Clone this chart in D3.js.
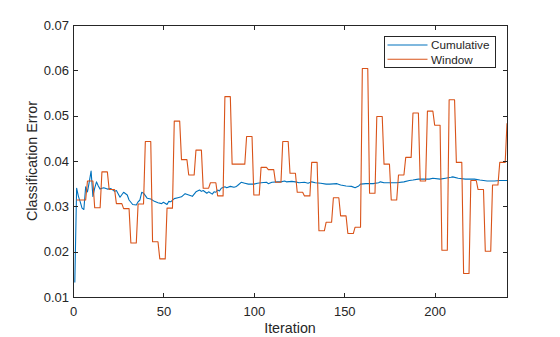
<!DOCTYPE html>
<html>
<head>
<meta charset="utf-8">
<script src="https://cdn.jsdelivr.net/npm/d3@7"></script>
<style>
  html, body { margin: 0; padding: 0; background: #fff; }
  svg { display: block; }
  text { font-family: "Liberation Sans", Arial, Helvetica, sans-serif; fill: #262626; }
</style>
</head>
<body>
<svg id="chart" width="560" height="337"></svg>
<script>
// ---------------- data ----------------
const xTicks = [0, 50, 100, 150, 200];
const yTicks = [0.01, 0.02, 0.03, 0.04, 0.05, 0.06, 0.07];
const seriesNames = ["Cumulative", "Window"];

// Cumulative classification error (sampled iterations)
const cumIter = [1, 2, 3, 4, 5, 6, 7, 8, 9, 10, 11, 12, 13, 14, 15, 16, 17, 19, 21, 23, 24, 26, 28, 30, 31, 33, 35, 36, 37, 38, 39,
  41, 43, 45, 47, 49, 50, 52, 53, 54, 56, 58, 60, 62, 64, 66, 68, 70, 71, 72, 74, 75, 77, 78, 79, 80, 81, 82, 84, 85, 87, 89,
  90, 91, 93, 95, 97, 100, 102, 104, 107, 108, 110, 113, 115, 117, 118, 121, 123, 125, 128, 130, 132, 134, 137, 140, 142, 146,
  148, 151, 154, 156, 158, 159, 162, 166, 169, 170, 172, 174, 176, 179, 183, 186, 188, 191, 194, 197, 199, 203, 206, 209, 210,
  213, 217, 221, 222, 225, 229, 233, 236, 240];
const cumErr = [0.0132, 0.0340, 0.0322, 0.0310, 0.0296, 0.0293, 0.0343, 0.0332, 0.0354, 0.0378, 0.0322, 0.0340, 0.0354, 0.0345,
  0.0338, 0.0340, 0.0341, 0.0338, 0.0339, 0.0333, 0.0335, 0.0320, 0.0331, 0.0325, 0.0314, 0.0304, 0.0303, 0.0310, 0.0314,
  0.0331, 0.0329, 0.0318, 0.0316, 0.0311, 0.0308, 0.0306, 0.0309, 0.0304, 0.0311, 0.0310, 0.0317, 0.0319, 0.0321, 0.0328,
  0.0325, 0.0322, 0.0332, 0.0336, 0.0333, 0.0335, 0.0329, 0.0332, 0.0327, 0.0332, 0.0331, 0.0336, 0.0334, 0.0340, 0.0343,
  0.0341, 0.0344, 0.0342, 0.0343, 0.0346, 0.0353, 0.0351, 0.0349, 0.0349, 0.0351, 0.0352, 0.0353, 0.0350, 0.0353, 0.0354,
  0.0354, 0.0356, 0.0354, 0.0355, 0.0354, 0.0352, 0.0353, 0.0351, 0.0354, 0.0352, 0.0351, 0.0349, 0.0349, 0.0350, 0.0347,
  0.0345, 0.0344, 0.0341, 0.0345, 0.0349, 0.0350, 0.0350, 0.0352, 0.0354, 0.0352, 0.0352, 0.0352, 0.0352, 0.0354, 0.0357,
  0.0358, 0.0360, 0.0360, 0.0360, 0.0362, 0.0360, 0.0362, 0.0364, 0.0365, 0.0362, 0.0360, 0.0360, 0.0360, 0.0358, 0.0356,
  0.0356, 0.0357, 0.0357];

// Window classification error: value holds from each start iteration until the next start
const winStart = [2, 8, 12, 16, 20, 24, 28, 32, 36, 40, 44, 48, 52, 56, 60, 64, 68, 72, 76, 80, 84, 88, 92, 96, 100, 104, 108,
  112, 116, 120, 124, 128, 132, 136, 140, 144, 148, 152, 156, 160, 164, 168, 172, 176, 180, 184, 188, 192, 196, 200, 204, 208,
  212, 216, 220, 224, 228, 232, 236, 240];
const winErr = [0.0314, 0.0356, 0.0297, 0.0376, 0.0337, 0.0306, 0.0295, 0.0219, 0.0305, 0.0443, 0.0222, 0.0184, 0.0296,
  0.0488, 0.0403, 0.0369, 0.0424, 0.0340, 0.0352, 0.0323, 0.0542, 0.0393, 0.0393, 0.0454, 0.0325, 0.0386, 0.0381, 0.0353,
  0.0443, 0.0373, 0.0331, 0.0323, 0.0397, 0.0246, 0.0265, 0.0319, 0.0279, 0.0240, 0.0254, 0.0604, 0.0329, 0.0498, 0.0393,
  0.0314, 0.0369, 0.0408, 0.0506, 0.0356, 0.0510, 0.0479, 0.0203, 0.0535, 0.0397, 0.0152, 0.0357, 0.0337, 0.0201, 0.0347,
  0.0397, 0.0483];
const lastIter = 240;

// ---------------- layout ----------------
const svg = d3.select("#chart");
const L = 73, R = 507, T = 25, B = 297;
const x = d3.scaleLinear().domain([0, 240]).range([L, R]);
const y = d3.scaleLinear().domain([0.01, 0.07]).range([B, T]);
const axisColor = "#262626";
const colors = ["#0072BD", "#D95319"];
const tickLen = 4.5;

svg.append("rect").attr("x", 0).attr("y", 0).attr("width", 560).attr("height", 337).attr("fill", "#fff");

svg.append("clipPath").attr("id", "clip").append("rect")
  .attr("x", L).attr("y", T).attr("width", R - L).attr("height", B - T);

const cumData = cumIter.map((it, i) => [it, cumErr[i]]);
const winData = [];
winStart.forEach((s, i) => {
  const e = i < winStart.length - 1 ? winStart[i + 1] - 1 : lastIter;
  for (let it = s; it <= e; it++) winData.push([it, winErr[i]]);
});

const line = d3.line().x(d => x(d[0])).y(d => y(d[1]));
const plot = svg.append("g").attr("clip-path", "url(#clip)");
plot.append("path").datum(cumData).attr("d", line)
  .attr("fill", "none").attr("stroke", colors[0]).attr("stroke-width", 1.1).attr("stroke-linejoin", "round");
plot.append("path").datum(winData).attr("d", line)
  .attr("fill", "none").attr("stroke", colors[1]).attr("stroke-width", 1.1).attr("stroke-linejoin", "round");

const fmtY = d3.format(".2f");
const gBottom = svg.append("g").attr("transform", `translate(0,${B})`)
  .call(d3.axisBottom(x).tickValues(xTicks).tickSizeInner(-tickLen).tickSizeOuter(0).tickPadding(10));
const gTop = svg.append("g").attr("transform", `translate(0,${T})`)
  .call(d3.axisTop(x).tickValues(xTicks).tickSizeInner(-tickLen).tickSizeOuter(0).tickFormat(""));
const gLeft = svg.append("g").attr("transform", `translate(${L},0)`)
  .call(d3.axisLeft(y).tickValues(yTicks).tickSizeInner(-tickLen).tickSizeOuter(0).tickPadding(4).tickFormat(fmtY));
const gRight = svg.append("g").attr("transform", `translate(${R},0)`)
  .call(d3.axisRight(y).tickValues(yTicks).tickSizeInner(-tickLen).tickSizeOuter(0).tickFormat(""));

[gBottom, gTop, gLeft, gRight].forEach(g => {
  g.select(".domain").remove();
  g.selectAll(".tick line").attr("stroke", axisColor).attr("stroke-width", 1).attr("shape-rendering", "crispEdges");
  g.selectAll(".tick text").attr("fill", axisColor).style("font-size", "13px")
    .style("font-family", '"Liberation Sans", Arial, Helvetica, sans-serif');
});
gBottom.selectAll(".tick text").attr("dy", "0.71em").attr("y", 10);
gLeft.selectAll(".tick text").attr("x", -4);

svg.append("rect").attr("x", L).attr("y", T).attr("width", R - L).attr("height", B - T)
  .attr("fill", "none").attr("stroke", axisColor).attr("stroke-width", 1).attr("shape-rendering", "crispEdges");

svg.append("text").attr("x", (L + R) / 2).attr("y", 333).attr("text-anchor", "middle")
  .style("font-size", "14.3px").text("Iteration");
svg.append("text").attr("transform", `translate(36.5,${(T + B) / 2}) rotate(-90)`).attr("text-anchor", "middle")
  .style("font-size", "14.3px").text("Classification Error");

const lg = svg.append("g");
lg.append("rect").attr("x", 384.5).attr("y", 36.5).attr("width", 111).attr("height", 31)
  .attr("fill", "#fff").attr("stroke", axisColor).attr("stroke-width", 1).attr("shape-rendering", "crispEdges");
const rowsY = [45, 59.3];
seriesNames.forEach((name, i) => {
  lg.append("line").attr("x1", 387.5).attr("x2", 427.5).attr("y1", rowsY[i]).attr("y2", rowsY[i])
    .attr("stroke", colors[i]).attr("stroke-width", 1.1);
  lg.append("text").attr("x", 431).attr("y", rowsY[i]).attr("dy", "0.36em")
    .style("font-size", "11.7px").text(name);
});
</script>
</body>
</html>
